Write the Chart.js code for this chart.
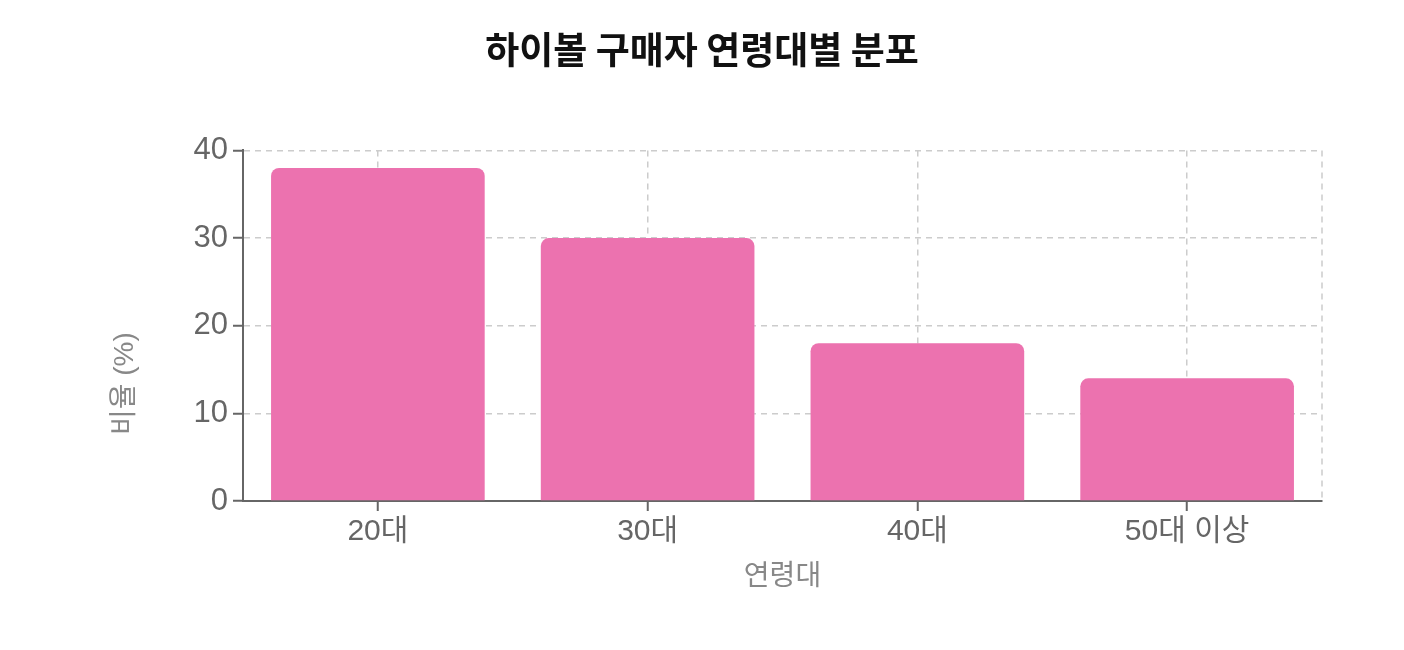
<!DOCTYPE html>
<html lang="ko">
<head>
<meta charset="utf-8">
<script src="https://cdn.jsdelivr.net/npm/chart.js@4.4.1/dist/chart.umd.min.js"></script>
<style>
  html, body { margin: 0; padding: 0; background: #fff; }
  #wrap { width: 1404px; height: 650px; position: relative; }
</style>
</head>
<body>
<div id="wrap"><canvas id="myChart"></canvas></div>
<script>
// chart data
const ageGroups = ['20대', '30대', '40대', '50대 이상'];
const shares = [38, 30, 18, 14];
const yTicks = [0, 10, 20, 30, 40];

const chartTitle = '하이볼 구매자 연령대별 분포';
const xTitle = '연령대';
const yTitle = '비율 (%)';

const fontFamily = "'Liberation Sans', 'Noto Sans CJK KR', sans-serif";
const gridColor = '#cccccc';
const axisColor = '#666666';
const gridDash = [6, 5];

// right edge dashed line + y axis title (placed a bit below centre like the original)
const extras = {
    id: 'extras',
    afterDraw(chart) {
        const { ctx, chartArea } = chart;
        ctx.save();
        ctx.strokeStyle = gridColor;
        ctx.lineWidth = 1.5;
        ctx.setLineDash(gridDash);
        ctx.beginPath();
        ctx.moveTo(chartArea.right, chartArea.top);
        ctx.lineTo(chartArea.right, chartArea.bottom);
        ctx.stroke();
        ctx.setLineDash([]);

        ctx.translate(chartArea.left - 118, (chartArea.top + chartArea.bottom) / 2 + 58);
        ctx.rotate(-Math.PI / 2);
        ctx.fillStyle = '#888888';
        ctx.font = "28px 'Liberation Sans', 'Noto Sans CJK KR', sans-serif";
        ctx.textAlign = 'center';
        ctx.textBaseline = 'middle';
        ctx.fillText(yTitle, 0, 0);
        ctx.restore();
    }
};

const ctx = document.getElementById('myChart').getContext('2d');
const myChart = new Chart(ctx, {
    type: 'bar',
    data: {
        labels: ageGroups,
        datasets: [{
            label: yTitle,
            data: shares,
            backgroundColor: '#EC72AF',
            borderRadius: { topLeft: 8, topRight: 8 },
            borderSkipped: 'start',
            categoryPercentage: 0.9,
            barPercentage: 0.88
        }]
    },
    options: {
        responsive: true,
        maintainAspectRatio: false,
        animation: false,
        devicePixelRatio: 1,
        layout: { padding: 0 },
        plugins: {
            legend: { display: false },
            tooltip: { enabled: false },
            title: {
                display: true,
                text: chartTitle,
                color: '#111111',
                font: { family: "'Noto Sans CJK KR', sans-serif", size: 37, weight: 'bold' },
                padding: { top: 28, bottom: 78 }
            }
        },
        scales: {
            x: {
                grid: {
                    offset: false,
                    color: gridColor,
                    lineWidth: 1.5,
                    tickColor: axisColor,
                    tickLength: 10,
                    tickWidth: 2
                },
                border: { display: true, color: axisColor, width: 2, dash: gridDash },
                ticks: {
                    color: axisColor,
                    padding: 3,
                    font: { family: fontFamily, size: 30 }
                },
                title: {
                    display: true,
                    text: xTitle,
                    color: '#888888',
                    font: { family: fontFamily, size: 28 },
                    padding: { top: 0, bottom: 56 }
                },
                afterFit(scale) { scale.height = 149; }
            },
            y: {
                min: yTicks[0],
                max: yTicks[yTicks.length - 1],
                grid: {
                    color: gridColor,
                    lineWidth: 1.5,
                    tickColor: axisColor,
                    tickLength: 10,
                    tickWidth: 2
                },
                border: { display: true, color: axisColor, width: 2, dash: gridDash },
                ticks: {
                    stepSize: 10,
                    color: axisColor,
                    padding: 5,
                    font: { family: fontFamily, size: 31 }
                },
                afterBuildTicks(scale) { scale.ticks = yTicks.map(v => ({ value: v })); },
                afterFit(scale) { scale.width = 243; }
            },
            // empty right axis, only keeps the right margin so the title stays centred
            yRight: {
                position: 'right',
                display: true,
                grid: { display: false, drawTicks: false },
                border: { display: false },
                ticks: { display: false },
                afterFit(scale) { scale.width = 82; }
            }
        }
    },
    plugins: [extras]
});
</script>
</body>
</html>
